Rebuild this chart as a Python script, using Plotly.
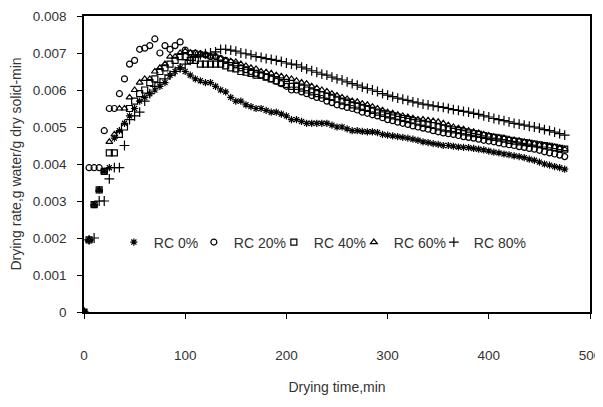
import plotly.graph_objects as go

time_min = [0, 5, 10, 15, 20, 25, 30, 35, 40, 45, 50, 55, 60, 65, 70, 75, 80, 85, 90, 95,
            100, 105, 110, 115, 120, 125, 130, 135, 140, 145, 150, 155, 160, 165, 170, 175, 180, 185, 190, 195,
            200, 205, 210, 215, 220, 225, 230, 235, 240, 245, 250, 255, 260, 265, 270, 275, 280, 285, 290, 295,
            300, 305, 310, 315, 320, 325, 330, 335, 340, 345, 350, 355, 360, 365, 370, 375, 380, 385, 390, 395,
            400, 405, 410, 415, 420, 425, 430, 435, 440, 445, 450, 455, 460, 465, 470, 475]

rc0 = [0, 0.00195, 0.0029, 0.0033, 0.0038, 0.0039, 0.0047, 0.0049, 0.0051, 0.0053, 0.0055, 0.0057, 0.0058, 0.0059, 0.0060, 0.0061, 0.0062, 0.0064, 0.0065, 0.0066,
       0.0065, 0.0064, 0.0063, 0.00625, 0.0062, 0.0062, 0.0061, 0.0060, 0.00595, 0.0058, 0.0057, 0.0057, 0.0056, 0.00555, 0.0055, 0.0055, 0.00545, 0.0054, 0.0054, 0.00535,
       0.0053, 0.0052, 0.0052, 0.00515, 0.0051, 0.0051, 0.0051, 0.0051, 0.0051, 0.00505, 0.0050, 0.0050, 0.00495, 0.0049, 0.0049, 0.00488, 0.00487, 0.00487, 0.00485, 0.0048,
       0.00478, 0.00476, 0.00474, 0.00472, 0.0047, 0.00467, 0.00464, 0.0046, 0.00458, 0.00455, 0.00453, 0.0045, 0.0045, 0.00448, 0.00446, 0.00445, 0.00444, 0.00442, 0.0044, 0.00438,
       0.00435, 0.00432, 0.0043, 0.00427, 0.00425, 0.00422, 0.0042, 0.00417, 0.00413, 0.0041, 0.00405, 0.0040, 0.00397, 0.00393, 0.0039, 0.00386]

rc20 = [0, 0.0039, 0.0039, 0.0039, 0.0049, 0.0055, 0.0055, 0.0059, 0.0063, 0.0067, 0.0068, 0.0071, 0.00713, 0.0072, 0.00738, 0.0070, 0.0072, 0.0071, 0.0072, 0.0073,
        0.00708, 0.0070, 0.0070, 0.00697, 0.00695, 0.0069, 0.0069, 0.00685, 0.0068, 0.00675, 0.00668, 0.0066, 0.00655, 0.0065, 0.00645, 0.0064, 0.00635, 0.0063, 0.00623, 0.00617,
        0.0061, 0.0060, 0.0060, 0.00595, 0.0059, 0.00585, 0.0058, 0.00577, 0.0057, 0.00566, 0.0056, 0.00557, 0.00553, 0.0055, 0.00546, 0.0054, 0.00537, 0.00533, 0.0053, 0.00525,
        0.0052, 0.00517, 0.00513, 0.0051, 0.00507, 0.00503, 0.0050, 0.00497, 0.00494, 0.0049, 0.00487, 0.00484, 0.00482, 0.0048, 0.00477, 0.00474, 0.00472, 0.0047, 0.00467, 0.00464,
        0.00462, 0.0046, 0.00457, 0.00454, 0.00452, 0.0045, 0.00447, 0.00445, 0.00442, 0.0044, 0.00437, 0.00433, 0.0043, 0.00427, 0.00424, 0.0042]

rc40 = [0, 0.00195, 0.0029, 0.0033, 0.0038, 0.0043, 0.0043, 0.0048, 0.0050, 0.0055, 0.0057, 0.0059, 0.0060, 0.0062, 0.0063, 0.0065, 0.0066, 0.0067, 0.0068, 0.0069,
        0.0069, 0.0068, 0.0068, 0.0067, 0.0067, 0.0067, 0.0067, 0.0067, 0.00665, 0.0066, 0.00657, 0.0065, 0.00648, 0.00645, 0.0064, 0.0064, 0.00635, 0.0063, 0.00625, 0.0062,
        0.00615, 0.0061, 0.0061, 0.00605, 0.0060, 0.00595, 0.0059, 0.00587, 0.00583, 0.0058, 0.00575, 0.0057, 0.00567, 0.0056, 0.00557, 0.00553, 0.0055, 0.00545, 0.0054, 0.00537,
        0.00533, 0.0053, 0.00527, 0.00523, 0.0052, 0.00517, 0.00513, 0.0051, 0.00507, 0.00504, 0.0050, 0.00497, 0.00495, 0.00492, 0.0049, 0.00487, 0.00484, 0.00482, 0.0048, 0.00477,
        0.00474, 0.00472, 0.0047, 0.00467, 0.00464, 0.00462, 0.0046, 0.00458, 0.00456, 0.00454, 0.00452, 0.0045, 0.00448, 0.00445, 0.00442, 0.0044]

rc60 = [0, 0.00195, 0.0029, 0.0033, 0.0038, 0.0046, 0.0048, 0.0055, 0.0055, 0.0058, 0.0060, 0.0062, 0.0063, 0.0063, 0.0065, 0.0066, 0.0067, 0.0069, 0.0069, 0.0070,
        0.00705, 0.0070, 0.0070, 0.00698, 0.00695, 0.0069, 0.0069, 0.00685, 0.0068, 0.00678, 0.00676, 0.0067, 0.00665, 0.0066, 0.00657, 0.0065, 0.00648, 0.00645, 0.0064, 0.00637,
        0.00633, 0.0063, 0.00625, 0.0062, 0.00617, 0.0061, 0.00605, 0.0060, 0.00596, 0.0059, 0.00585, 0.0058, 0.00576, 0.0057, 0.00568, 0.00563, 0.0056, 0.00555, 0.0055, 0.00545,
        0.0054, 0.00537, 0.00533, 0.0053, 0.00527, 0.00524, 0.0052, 0.0052, 0.00518, 0.00516, 0.00514, 0.0051, 0.00505, 0.0050, 0.00497, 0.00494, 0.0049, 0.00487, 0.00484, 0.0048,
        0.00477, 0.00474, 0.00472, 0.0047, 0.00467, 0.00465, 0.00463, 0.0046, 0.00458, 0.00455, 0.00452, 0.0045, 0.00448, 0.00446, 0.00443, 0.0044]

rc80 = [0, 0.00195, 0.0020, 0.0030, 0.0030, 0.0036, 0.0039, 0.0039, 0.0045, 0.0052, 0.0053, 0.0054, 0.0057, 0.0059, 0.0061, 0.0062, 0.0063, 0.0064, 0.0065, 0.0066,
        0.0067, 0.0068, 0.0069, 0.00695, 0.00698, 0.0070, 0.00703, 0.0071, 0.0071, 0.00708, 0.00705, 0.0070, 0.00698, 0.00695, 0.0069, 0.00688, 0.00685, 0.00683, 0.0068, 0.00677,
        0.00673, 0.0067, 0.00668, 0.00662, 0.00657, 0.00652, 0.00648, 0.00643, 0.0064, 0.00635, 0.0063, 0.00627, 0.00622, 0.00617, 0.00613, 0.00608, 0.00604, 0.0060, 0.00596, 0.0059,
        0.00586, 0.00582, 0.00578, 0.00575, 0.00572, 0.00568, 0.00565, 0.00562, 0.0056, 0.00557, 0.00555, 0.00553, 0.0055, 0.00547, 0.00545, 0.00542, 0.0054, 0.00537, 0.00534, 0.0053,
        0.00527, 0.00523, 0.0052, 0.00517, 0.00514, 0.0051, 0.00508, 0.00505, 0.00502, 0.0050, 0.00497, 0.00493, 0.0049, 0.00486, 0.00482, 0.00478]

series_names = ["RC 0%", "RC 20%", "RC 40%", "RC 60%", "RC 80%"]
series_values = [rc0, rc20, rc40, rc60, rc80]
symbols = ["asterisk-open", "circle-open", "square-open", "triangle-up-open", "cross-thin-open"]
sizes = [6, 6, 6, 6, 7]

x_ticks = [0, 100, 200, 300, 400, 500]
y_ticks = [0, 0.001, 0.002, 0.003, 0.004, 0.005, 0.006, 0.007, 0.008]
y_tick_text = ["0", "0.001", "0.002", "0.003", "0.004", "0.005", "0.006", "0.007", "0.008"]

fig = go.Figure()
for name, vals, sym, sz in zip(series_names, series_values, symbols, sizes):
    fig.add_trace(go.Scatter(
        x=time_min, y=vals, mode="markers", name=name,
        marker=dict(symbol=sym, size=sz, color="black", line=dict(color="black", width=1.2)),
    ))
# invisible spacer entry so the last legend label is not clipped
fig.add_trace(go.Scatter(x=[None], y=[None], mode="lines", name=" ",
                         line=dict(width=0, color="rgba(0,0,0,0)"), hoverinfo="skip"))

font_family = "Liberation Sans, Arial, sans-serif"
text_color = "#333333"
tick_font = dict(family=font_family, size=13.5, color=text_color)
# the page body has an 8 px default margin, so margins are offset by 8 px
fig.update_layout(
    width=603, height=407,
    margin=dict(l=76, r=21, t=8, b=103),
    paper_bgcolor="white", plot_bgcolor="white",
    font=dict(family=font_family, size=14, color=text_color),
    showlegend=True,
    legend=dict(orientation="h", x=0.059, y=0.235, xanchor="left", yanchor="middle",
                bgcolor="rgba(0,0,0,0)", font=dict(size=14, color=text_color),
                entrywidth=35, entrywidthmode="pixels", itemwidth=30),
    xaxis=dict(range=[0, 500], tickvals=x_ticks, showgrid=False, zeroline=False,
               showline=True, linecolor="black", linewidth=1.5, mirror=True,
               ticks="outside", ticklen=5, tickcolor="black", tickwidth=1, tickfont=tick_font,
               ticklabelstandoff=25, automargin=False, ticklabeloverflow="allow",
               title=dict(text="Drying time,min", font=dict(size=14, color=text_color), standoff=20)),
    yaxis=dict(range=[0, 0.008], tickvals=y_ticks, ticktext=y_tick_text, showgrid=False, zeroline=False,
               showline=True, linecolor="black", linewidth=1.5, mirror=True,
               ticks="outside", ticklen=5, tickcolor="black", tickwidth=1, tickfont=tick_font,
               ticklabelstandoff=8, automargin=False, ticklabeloverflow="allow",
               title=dict(text="Drying rate,g water/g dry solid-min", font=dict(size=14, color=text_color), standoff=10)),
)

fig.write_html("out.html", config={"displayModeBar": False})
